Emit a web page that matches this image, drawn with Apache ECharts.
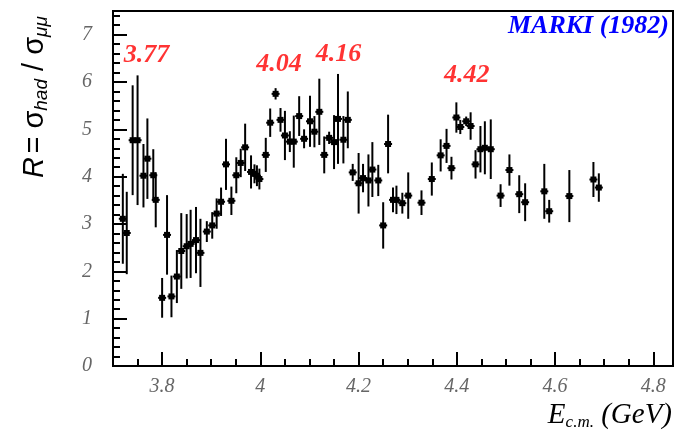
<!DOCTYPE html>
<html>
<head>
<meta charset="utf-8">
<script src="https://cdn.jsdelivr.net/npm/echarts@6/dist/echarts.min.js"></script>
<style>
  html, body { margin: 0; padding: 0; background: #fff; }
  #chart { width: 684px; height: 436px; }
</style>
</head>
<body>
<div id="chart"></div>
<script>
const energy = [
  3.720, 3.728, 3.740, 3.750, 3.762, 3.770, 3.782, 3.787, 3.800, 3.810,
  3.819, 3.830, 3.839, 3.850, 3.858, 3.869, 3.878, 3.891, 3.902, 3.911,
  3.920, 3.930, 3.941, 3.951, 3.960, 3.969, 3.981, 3.988, 3.993, 3.998,
  4.011, 4.020, 4.031, 4.041, 4.050, 4.060, 4.068, 4.079, 4.089, 4.101,
  4.110, 4.120, 4.130, 4.140, 4.150, 4.158, 4.169, 4.178, 4.188, 4.200,
  4.209, 4.220, 4.228, 4.240, 4.250, 4.260, 4.270, 4.277, 4.289, 4.301,
  4.328, 4.349, 4.367, 4.379, 4.389, 4.399, 4.407, 4.419, 4.428, 4.438,
  4.448, 4.457, 4.469, 4.489, 4.507, 4.527, 4.539, 4.578, 4.588, 4.629,
  4.678, 4.689
]
const ratio = [
  3.11, 2.81, 4.77, 4.77, 4.02, 4.38, 4.03, 3.51, 1.44, 2.77,
  1.47, 1.89, 2.43, 2.53, 2.58, 2.66, 2.39, 2.84, 2.97, 3.22,
  3.47, 4.26, 3.49, 4.03, 4.29, 4.62, 4.10, 4.06, 4.02, 3.95,
  4.46, 5.14, 5.75, 5.20, 4.87, 4.74, 4.74, 5.28, 4.80, 5.17,
  4.95, 5.37, 4.46, 4.82, 4.73, 5.22, 4.78, 5.20, 4.09, 3.86,
  3.97, 3.92, 4.15, 3.92, 2.97, 4.69, 3.51, 3.51, 3.44, 3.60,
  3.45, 3.95, 4.45, 4.65, 4.18, 5.25, 5.05, 5.17, 5.07, 4.26,
  4.58, 4.61, 4.58, 3.60, 4.14, 3.63, 3.46, 3.69, 3.27, 3.59,
  3.94, 3.77
]
const ratioErr = [
  0.95, 0.87, 1.16, 1.37, 0.67, 0.85, 0.55, 0.58, 0.42, 0.84,
  0.44, 0.56, 0.80, 0.68, 0.72, 0.70, 0.72, 0.22, 0.28, 0.32,
  0.30, 0.54, 0.30, 0.38, 0.30, 0.50, 0.35, 0.20, 0.22, 0.22,
  0.36, 0.30, 0.12, 0.25, 0.52, 0.22, 0.55, 0.42, 0.20, 0.54,
  0.33, 0.70, 0.39, 0.13, 0.57, 0.95, 0.50, 0.60, 0.18, 0.64,
  0.30, 0.55, 0.58, 0.33, 0.49, 0.62, 0.26, 0.30, 0.22, 0.49,
  0.26, 0.35, 0.34, 0.36, 0.24, 0.32, 0.15, 0.10, 0.29, 0.30,
  0.49, 0.56, 0.63, 0.24, 0.33, 0.40, 0.40, 0.58, 0.24, 0.55,
  0.37, 0.30
]

// resonance annotations
const peakText = ['3.77', '4.04', '4.16', '4.42']
const peakE = [3.768, 4.038, 4.159, 4.420]
const peakR = [6.56, 6.37, 6.58, 6.15]

const xTicks = [3.8, 4, 4.2, 4.4, 4.6, 4.8]
const yTicks = [0, 1, 2, 3, 4, 5, 6, 7]

let xMinor = []
for (let i = 0; i < 23; i++) {
  let v = +(3.7 + i * 0.05).toFixed(2)
  if (v > 3.7 && xTicks.indexOf(v) < 0) xMinor.push(v)
}
let yMinor = []
for (let i = 1; i < 38; i++) {
  let v = +(i * 0.2).toFixed(1)
  if (v % 1 !== 0) yMinor.push(v)
}

const points = energy.map((e, i) => [e, ratio[i], ratioErr[i]])
const peaks = peakE.map((e, i) => [e, peakR[i], peakText[i]])

function renderErr (params, api) {
  let x = api.value(0), y = api.value(1), e = api.value(2)
  let c = api.coord([x, y])
  let top = api.coord([x, y + e])
  let bot = api.coord([x, y - e])
  let hw = 4
  return {
    type: 'group',
    children: [
      { type: 'line', shape: { x1: c[0], y1: top[1], x2: c[0], y2: bot[1] }, style: { stroke: '#000', lineWidth: 2 } },
      { type: 'line', shape: { x1: c[0] - hw, y1: c[1], x2: c[0] + hw, y2: c[1] }, style: { stroke: '#000', lineWidth: 2 } },
      { type: 'rect', shape: { x: c[0] - 3, y: c[1] - 3, width: 6, height: 6 }, style: { fill: '#000' } }
    ]
  }
}

const tickFont = { fontFamily: 'Liberation Serif', fontStyle: 'italic', fontSize: 20, color: '#666' }

let myChart = echarts.init(document.getElementById('chart'))
myChart.setOption({
  animation: false,
  grid: { left: 113, right: 11, top: 11, bottom: 70, show: true, borderColor: '#000', borderWidth: 2 },
  xAxis: [
    {
      type: 'value', min: 3.7, max: 4.84,
      axisLine: { show: true, lineStyle: { color: '#000', width: 2 } },
      axisTick: { inside: true, length: 14, customValues: xTicks, lineStyle: { color: '#000', width: 2 } },
      axisLabel: Object.assign({ customValues: xTicks, margin: 11 }, tickFont),
      splitLine: { show: false }
    },
    {
      type: 'value', min: 3.7, max: 4.84, position: 'bottom',
      axisLine: { show: false },
      axisTick: { inside: true, length: 7, customValues: xMinor, lineStyle: { color: '#000', width: 2 } },
      axisLabel: { show: false },
      splitLine: { show: false }
    }
  ],
  yAxis: [
    {
      type: 'value', min: 0, max: 7.5,
      axisLine: { show: true, lineStyle: { color: '#000', width: 2 } },
      axisTick: { inside: true, length: 14, customValues: yTicks, lineStyle: { color: '#000', width: 2 } },
      axisLabel: Object.assign({ customValues: yTicks, margin: 21 }, tickFont),
      splitLine: { show: false }
    },
    {
      type: 'value', min: 0, max: 7.5, position: 'left',
      axisLine: { show: false },
      axisTick: { inside: true, length: 7, customValues: yMinor, lineStyle: { color: '#000', width: 2 } },
      axisLabel: { show: false },
      splitLine: { show: false }
    }
  ],
  series: [
    {
      type: 'custom',
      renderItem: renderErr,
      data: points,
      encode: { x: 0, y: 1 },
      clip: true
    },
    {
      type: 'scatter',
      symbolSize: 0,
      data: peaks,
      label: {
        show: true, position: 'inside',
        formatter: p => p.data[2],
        fontFamily: 'Liberation Serif', fontStyle: 'italic', fontWeight: 'bold',
        fontSize: 26, color: '#ff0000'
      }
    }
  ],
  graphic: [
    {
      type: 'text', x: 669, y: 26,
      style: {
        text: 'MARKI (1982)',
        font: 'italic bold 26px "Liberation Serif"',
        align: 'right', verticalAlign: 'middle',
        fill: '#0000ff'
      }
    },
    {
      type: 'text', x: 672, y: 416,
      style: {
        text: '{m|E}{s|c.m.}{m| (GeV)}',
        align: 'right', verticalAlign: 'middle',
        rich: {
          m: { fontFamily: 'Liberation Serif', fontStyle: 'italic', fontSize: 29, color: '#333', verticalAlign: 'top', lineHeight: 30 },
          s: { fontFamily: 'Liberation Serif', fontStyle: 'italic', fontSize: 17, color: '#333', verticalAlign: 'bottom', lineHeight: 17, padding: [18, 0, 0, 0] }
        }
      }
    },
    {
      type: 'text', x: 36, y: 97, rotation: Math.PI / 2,
      style: {
        text: '{r|R} {m|= σ}{s|had}{m| / σ}{s|μμ}',
        align: 'center', verticalAlign: 'middle',
        rich: {
          r: { fontFamily: 'Liberation Sans', fontStyle: 'italic', fontSize: 29, color: '#333', verticalAlign: 'top', lineHeight: 31 },
          m: { fontFamily: 'Liberation Sans', fontSize: 29, color: '#333', verticalAlign: 'top', lineHeight: 31 },
          s: { fontFamily: 'Liberation Sans', fontStyle: 'italic', fontSize: 19, color: '#333', verticalAlign: 'bottom', lineHeight: 19, padding: [16, 0, 0, 0] }
        }
      }
    }
  ]
})
</script>
</body>
</html>
